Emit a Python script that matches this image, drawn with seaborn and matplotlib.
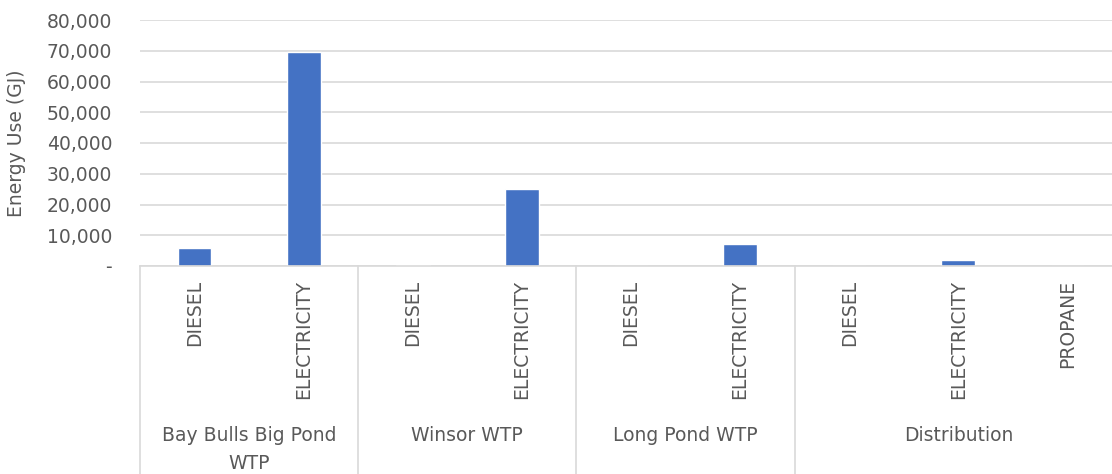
import matplotlib
matplotlib.use("Agg")
import matplotlib.pyplot as plt
import matplotlib.ticker as mticker
import pandas as pd
import seaborn as sns

# data
sites = ["Bay Bulls Big Pond\nWTP", "Winsor WTP", "Long Pond WTP", "Distribution"]
site_fuels = [
    ["DIESEL", "ELECTRICITY"],
    ["DIESEL", "ELECTRICITY"],
    ["DIESEL", "ELECTRICITY"],
    ["DIESEL", "ELECTRICITY", "PROPANE"],
]
energy_gj = [
    [6000, 69600],
    [350, 25000],
    [80, 7050],
    [0, 1950, 0],
]
y_ticks = [0, 10000, 20000, 30000, 40000, 50000, 60000, 70000, 80000]

BAR = "#4472C4"
GRID = "#D9D9D9"
TEXT = "#595959"

rows = []
for site, fuels, vals in zip(sites, site_fuels, energy_gj):
    for fuel, v in zip(fuels, vals):
        rows.append({"site": site, "fuel": fuel, "key": f"{site}|{fuel}", "gj": v})
df = pd.DataFrame(rows)

sns.set_theme(style="white")
plt.rcParams["font.family"] = ["DejaVu Sans"]

fig = plt.figure(figsize=(11.12, 4.74), dpi=100)
ax = fig.add_axes([140 / 1112, 1 - 266 / 474, 982 / 1112, 246 / 474])

sns.barplot(data=df, x="key", y="gj", order=list(df["key"]), color=BAR,
            width=0.31, saturation=1, ax=ax)

ax.set_xlim(-0.5, len(df) - 0.5)
ax.set_ylim(0, 80000)
ax.set_yticks(y_ticks)
ax.yaxis.set_major_formatter(
    mticker.FuncFormatter(lambda v, _: "-" if v == 0 else f"{v:,.0f}"))
ax.grid(axis="y", color=GRID, linewidth=1.2)
ax.set_axisbelow(True)
for s in ["top", "right", "left"]:
    ax.spines[s].set_visible(False)
ax.spines["bottom"].set_color(GRID)
ax.spines["bottom"].set_linewidth(1.2)

ax.tick_params(axis="y", length=0, pad=20, labelsize=13.5, labelcolor=TEXT)
ax.tick_params(axis="x", length=0, pad=10)
ax.set_xticks(range(len(df)))
ax.set_xticklabels(df["fuel"], rotation=90, va="top", ha="center",
                   fontsize=13.5, color=TEXT)
ax.set_xlabel("")
ax.set_ylabel("")

# group separators and group labels below the axis
trans = ax.get_xaxis_transform()
start = 0
for site, fuels in zip(sites, site_fuels):
    ax.plot([start - 0.5, start - 0.5], [0, -1.0], transform=trans,
            color=GRID, linewidth=1.2, clip_on=False)
    mid = start + (len(fuels) - 1) / 2
    ax.text(mid, -0.65, site, transform=trans, ha="center", va="top",
            fontsize=13.5, color=TEXT, linespacing=1.6)
    start += len(fuels)
ax.plot([start - 0.5, start - 0.5], [0, -1.0], transform=trans,
        color=GRID, linewidth=1.2, clip_on=False)

fig.text(17 / 1112, 1 - 143 / 474, "Energy Use (GJ)", rotation=90,
         ha="center", va="center", fontsize=13.5, color=TEXT)

fig.savefig("out.png", dpi=100, facecolor="white")
